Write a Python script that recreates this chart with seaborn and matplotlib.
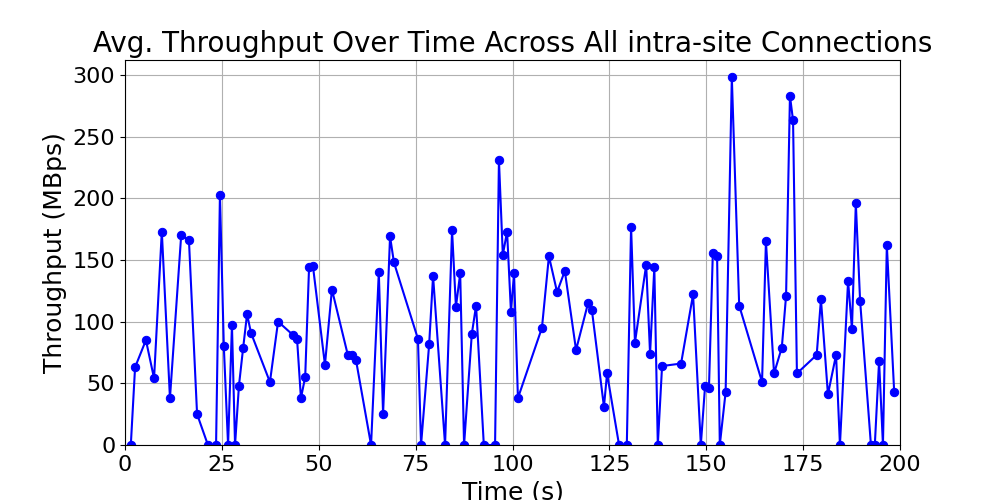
import matplotlib
matplotlib.use("Agg")
import matplotlib.pyplot as plt
import seaborn as sns
import pandas as pd

time_s = [1.5,2.6,5.4,7.5,9.5,11.6,14.5,16.5,18.6,21.4,23.5,24.5,25.5,26.6,27.6,28.4,29.4,30.5,31.5,32.5,
          37.4,39.5,43.4,44.4,45.4,46.5,47.5,48.5,51.6,53.4,57.5,58.6,59.6,63.5,65.5,66.6,68.4,69.4,75.6,76.4,
          78.5,79.5,82.6,84.4,85.4,86.5,87.5,89.5,90.6,92.6,95.5,96.5,97.5,98.6,99.6,100.4,101.4,107.6,109.4,111.5,
          113.5,116.4,119.5,120.5,123.6,124.4,127.5,129.5,130.6,131.6,134.5,135.5,136.6,137.5,138.6,143.5,146.6,148.6,149.7,150.7,
          151.7,152.8,153.5,155.0,156.6,158.5,164.4,165.4,167.5,169.5,170.6,171.6,172.4,173.4,178.5,179.6,181.4,183.5,184.5,186.6,
          187.6,188.6,189.7,192.5,193.5,194.6,195.6,196.6,198.5]
throughput = [0,63,85,54,173,38,170,166,25,0,0,203,80,0,97,0,48,79,106,91,
              51,100,89,86,38,55,144,145,65,126,73,73,69,0,140,25,169,148,86,0,
              82,137,0,174,112,139,0,90,113,0,0,231,154,173,108,139,38,95,153,124,
              141,77,115,109,31,58,0,0,177,83,146,74,144,0,64,66,122,0,48,46,
              156,153,0,43,298,113,51,165,58,79,121,283,263,58,73,118,41,73,0,133,
              94,196,117,0,0,68,0,162,43]

df = pd.DataFrame({"t": time_s, "v": throughput})
sns.set_style("ticks", {"axes.edgecolor": "black", "text.color": "black",
                        "axes.labelcolor": "black", "xtick.color": "black", "ytick.color": "black"})
plt.rcParams["font.family"] = ["DejaVu Sans"]
fig, ax = plt.subplots(figsize=(10, 5), dpi=100)
sns.lineplot(data=df, x="t", y="v", marker="o", color="blue", markeredgecolor="blue",
             markersize=6, linewidth=1.5, ax=ax, sort=False)
ax.set_xlim(0, 200)
ax.set_ylim(0, 312)
ax.set_xticks([0, 25, 50, 75, 100, 125, 150, 175, 200])
ax.set_yticks([0, 50, 100, 150, 200, 250, 300])
ax.grid(True, color="#b0b0b0", linewidth=0.8)
ax.tick_params(labelsize=16, colors="black")
ax.set_xlabel("Time (s)", fontsize=18, color="black")
ax.set_ylabel("Throughput (MBps)", fontsize=18, color="black")
ax.set_title("Avg. Throughput Over Time Across All intra-site Connections", fontsize=20, color="black")
for s in ax.spines.values():
    s.set_visible(True)
    s.set_color("black")
fig.subplots_adjust(left=0.125, right=0.9, top=0.88, bottom=0.11)
fig.savefig("out.png")
